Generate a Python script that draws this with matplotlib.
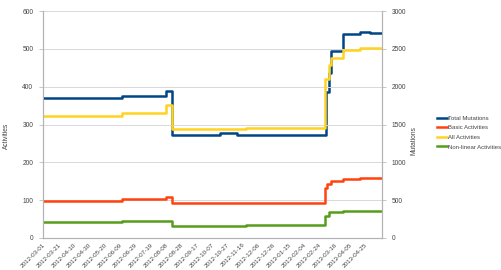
import matplotlib
matplotlib.use("Agg")
import matplotlib.pyplot as plt
import numpy as np
from datetime import datetime, timedelta

plt.rcParams["font.family"] = ["Liberation Sans", "DejaVu Sans"]

# ---- data (change points, step series) ----
total_dates = ["2012-03-01", "2012-06-12", "2012-08-08", "2012-08-16", "2012-10-18",
               "2012-11-09", "2013-03-05", "2013-03-09", "2013-03-12", "2013-03-27",
               "2013-04-18", "2013-05-01", "2013-05-17"]
total_mutations = [1855, 1875, 1945, 1360, 1382, 1363, 1925, 2180, 2470, 2695, 2722, 2715, 2715]

all_dates = ["2012-03-01", "2012-06-12", "2012-08-08", "2012-08-16", "2012-11-21",
             "2013-03-04", "2013-03-09", "2013-03-12", "2013-03-27", "2013-04-18", "2013-05-17"]
all_activities = [322, 330, 352, 289, 292, 420, 458, 476, 498, 501, 501]

basic_dates = ["2012-03-01", "2012-06-12", "2012-08-08", "2012-08-16", "2013-03-04",
               "2013-03-06", "2013-03-12", "2013-03-27", "2013-04-18", "2013-05-17"]
basic_activities = [98, 102, 109, 93, 133, 143, 150, 157, 158, 158]

nonlin_dates = ["2012-03-01", "2012-06-12", "2012-08-16", "2012-11-21", "2013-03-04",
                "2013-03-09", "2013-03-27", "2013-05-17"]
nonlinear_activities = [43, 46, 32, 35, 59, 69, 72, 72]

x_start = "2012-03-01"
x_end = "2013-05-17"
last_tick = "2013-04-25"
tick_step_days = 20

def d(s):
    return datetime.strptime(s, "%Y-%m-%d")

BLUE = "#004586"
ORANGE = "#ff420e"
YELLOW = "#ffd320"
GREEN = "#579d1c"
TXT = "#444444"

fig = plt.figure(figsize=(5.01, 2.70), dpi=100)
ax = fig.add_axes([43/501, 1-238/270, (382-43)/501, (238-11)/270])
ax2 = ax.twinx()

lw = 1.8
ax2.plot([d(s) for s in total_dates], total_mutations, drawstyle="steps-post",
         color=BLUE, lw=lw, label="Total Mutations", zorder=3)
ax.plot([d(s) for s in basic_dates], basic_activities, drawstyle="steps-post",
        color=ORANGE, lw=lw, label="Basic Activities")
ax.plot([d(s) for s in all_dates], all_activities, drawstyle="steps-post",
        color=YELLOW, lw=lw, label="All Activities")
ax.plot([d(s) for s in nonlin_dates], nonlinear_activities, drawstyle="steps-post",
        color=GREEN, lw=lw, label="Non-linear Activities")

ax.set_zorder(ax2.get_zorder() + 1)
ax.patch.set_visible(False)

ax.set_xlim(d(x_start), d(x_end))
ax.set_ylim(0, 600)
ax2.set_ylim(0, 3000)
ax.set_yticks(np.arange(0, 601, 100))
ax2.set_yticks(np.arange(0, 3001, 500))
ax.grid(axis="y", color="#d8d8d8", lw=0.7)
ax.set_axisbelow(True)

ticks = []
t = d(x_start)
while t <= d(last_tick):
    ticks.append(t)
    t += timedelta(days=tick_step_days)
ax.set_xticks(ticks)
ax.set_xticklabels([t.strftime("%Y-%m-%d") for t in ticks], rotation=45,
                   ha="right", rotation_mode="anchor", fontsize=4.5, color=TXT)
ax.tick_params(axis="x", length=0, pad=3)
ax.tick_params(axis="y", length=3, width=0.5, color="#b0b0b0", labelsize=4.8, labelcolor=TXT, pad=4)
ax2.tick_params(axis="y", length=3, width=0.5, color="#b0b0b0", labelsize=4.8, labelcolor=TXT, pad=4)

for a in (ax, ax2):
    a.spines["top"].set_visible(False)
    for s in ("left", "right", "bottom"):
        a.spines[s].set_color("#b3b3b3")
        a.spines[s].set_linewidth(0.8)

fig.text(6/501, 1-136/270, "Activities", rotation=90, ha="center", va="center",
         fontsize=4.8, color=TXT)
fig.text(414/501, 1-141/270, "Mutations", rotation=90, ha="center", va="center",
         fontsize=4.8, color=TXT)

h1, l1 = ax2.get_legend_handles_labels()
h2, l2 = ax.get_legend_handles_labels()
fig.legend(h1 + h2, l1 + l2, loc="center left", bbox_to_anchor=(437/501, 1-132.5/270),
           frameon=False, fontsize=4.3, handlelength=1.6, handletextpad=0.3,
           labelspacing=0.75, labelcolor=TXT, borderpad=0, borderaxespad=0)

fig.savefig("out.png", dpi=100)
